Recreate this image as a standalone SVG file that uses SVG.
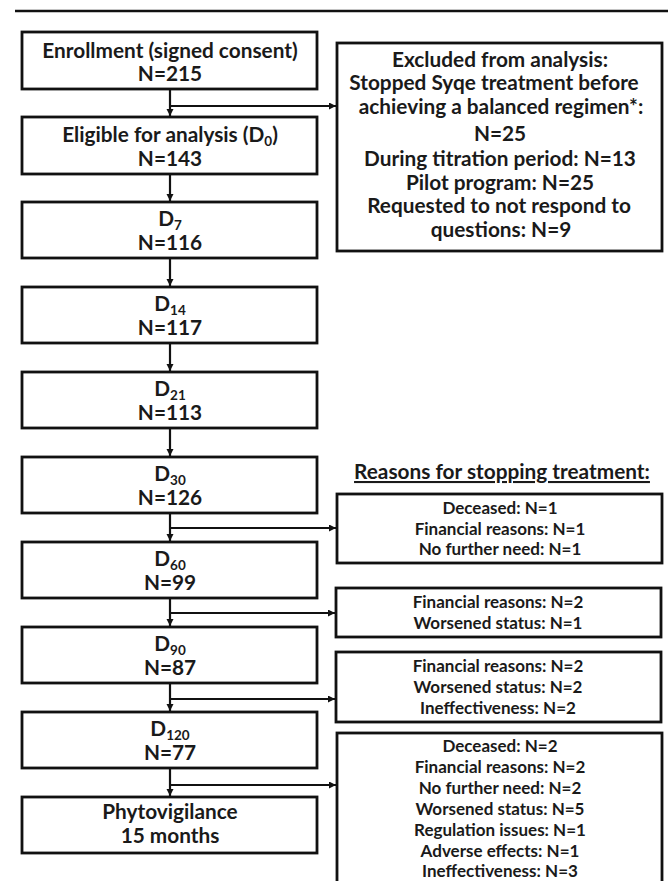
<svg xmlns="http://www.w3.org/2000/svg" width="668" height="881" viewBox="0 0 668 881">
<style>
.box{fill:#fff;stroke:#111;stroke-width:2.8}
.t{font-family:Lato,"Liberation Sans",sans-serif;font-weight:bold;fill:#1a1a1a;text-anchor:middle}
.L{font-size:20.8px}
.S{font-size:17px}
.sub{font-size:13.5px}
.c{stroke:#111;stroke-width:2.2;fill:none}
</style>
<defs>
<marker id="ah" markerUnits="userSpaceOnUse" markerWidth="8" markerHeight="8" refX="7" refY="3.5" orient="auto">
<path d="M0,0 L7,3.5 L0,7 z" fill="#111"/>
</marker>
</defs>
<rect width="668" height="881" fill="#fff"/>
<line x1="15" y1="11" x2="668" y2="11" stroke="#111" stroke-width="2.6"/>

<g id="connectors">
<line class="c" x1="170" y1="89" x2="170" y2="116" marker-end="url(#ah)"/>
<line class="c" x1="170" y1="106" x2="336" y2="106" marker-end="url(#ah)"/>
<line class="c" x1="170" y1="174" x2="170" y2="201" marker-end="url(#ah)"/>
<line class="c" x1="170" y1="258" x2="170" y2="286" marker-end="url(#ah)"/>
<line class="c" x1="170" y1="343" x2="170" y2="371" marker-end="url(#ah)"/>
<line class="c" x1="170" y1="428" x2="170" y2="456" marker-end="url(#ah)"/>
<line class="c" x1="170" y1="513" x2="170" y2="541" marker-end="url(#ah)"/>
<line class="c" x1="170" y1="528" x2="336" y2="528" marker-end="url(#ah)"/>
<line class="c" x1="170" y1="598" x2="170" y2="626" marker-end="url(#ah)"/>
<line class="c" x1="170" y1="613" x2="335" y2="613" marker-end="url(#ah)"/>
<line class="c" x1="170" y1="683" x2="170" y2="711" marker-end="url(#ah)"/>
<line class="c" x1="170" y1="699" x2="335" y2="699" marker-end="url(#ah)"/>
<line class="c" x1="170" y1="768" x2="170" y2="796" marker-end="url(#ah)"/>
<line class="c" x1="170" y1="785" x2="336" y2="785" marker-end="url(#ah)"/>
</g>

<g id="enrollment">
<rect class="box" x="22" y="32" width="295" height="57"/>
<text class="t L" x="170" y="58">Enrollment (signed consent)</text>
<text class="t L" x="170" y="81">N=215</text>
</g>
<g id="eligible">
<rect class="box" x="22" y="117" width="295" height="57"/>
<text class="t L" x="170" y="142">Eligible for analysis (D<tspan class="sub" dy="3.5">0</tspan><tspan dy="-3.5">)</tspan></text>
<text class="t L" x="170" y="166">N=143</text>
</g>
<g id="d7">
<rect class="box" x="22" y="202" width="295" height="56"/>
<text class="t L" x="170" y="226">D<tspan class="sub" dy="3.5">7</tspan></text>
<text class="t L" x="170" y="250">N=116</text>
</g>
<g id="d14">
<rect class="box" x="22" y="287" width="295" height="56"/>
<text class="t L" x="170" y="311">D<tspan class="sub" dy="3.5">14</tspan></text>
<text class="t L" x="170" y="335">N=117</text>
</g>
<g id="d21">
<rect class="box" x="22" y="372" width="295" height="56"/>
<text class="t L" x="170" y="396">D<tspan class="sub" dy="3.5">21</tspan></text>
<text class="t L" x="170" y="420">N=113</text>
</g>
<g id="d30">
<rect class="box" x="22" y="457" width="295" height="56"/>
<text class="t L" x="170" y="481">D<tspan class="sub" dy="3.5">30</tspan></text>
<text class="t L" x="170" y="505">N=126</text>
</g>
<g id="d60">
<rect class="box" x="22" y="542" width="295" height="56"/>
<text class="t L" x="170" y="566">D<tspan class="sub" dy="3.5">60</tspan></text>
<text class="t L" x="170" y="590">N=99</text>
</g>
<g id="d90">
<rect class="box" x="22" y="627" width="295" height="56"/>
<text class="t L" x="170" y="651">D<tspan class="sub" dy="3.5">90</tspan></text>
<text class="t L" x="170" y="675">N=87</text>
</g>
<g id="d120">
<rect class="box" x="22" y="712" width="295" height="56"/>
<text class="t L" x="170" y="736">D<tspan class="sub" dy="3.5">120</tspan></text>
<text class="t L" x="170" y="760">N=77</text>
</g>
<g id="phyto">
<rect class="box" x="22" y="797" width="295" height="56"/>
<text class="t L" x="170" y="819">Phytovigilance</text>
<text class="t L" x="170" y="843">15 months</text>
</g>

<g id="excluded">
<rect class="box" x="337" y="43" width="325" height="208"/>
<text class="t L" x="500" y="67">Excluded from analysis:</text>
<text class="t L" x="494" y="90">Stopped Syqe treatment before</text>
<text class="t L" x="501" y="114">achieving a balanced regimen*:</text>
<text class="t L" x="500" y="141">N=25</text>
<text class="t L" x="500" y="166">During titration period: N=13</text>
<text class="t L" x="500" y="190">Pilot program: N=25</text>
<text class="t L" x="499" y="213">Requested to not respond to</text>
<text class="t L" x="501" y="237">questions: N=9</text>
</g>

<text id="reasons-title" class="t L" x="502" y="479" text-decoration="underline">Reasons for stopping treatment:</text>

<g id="reasons-d30">
<rect class="box" x="337" y="494" width="325" height="69"/>
<text class="t S" x="500" y="514">Deceased: N=1</text>
<text class="t S" x="500" y="535">Financial reasons: N=1</text>
<text class="t S" x="500" y="555">No further need: N=1</text>
</g>
<g id="reasons-d60">
<rect class="box" x="336" y="588" width="325" height="49"/>
<text class="t S" x="498" y="608">Financial reasons: N=2</text>
<text class="t S" x="498" y="629">Worsened status: N=1</text>
</g>
<g id="reasons-d90">
<rect class="box" x="336" y="652" width="325" height="70"/>
<text class="t S" x="498" y="672">Financial reasons: N=2</text>
<text class="t S" x="498" y="693">Worsened status: N=2</text>
<text class="t S" x="498" y="714">Ineffectiveness: N=2</text>
</g>
<g id="reasons-d120">
<rect class="box" x="337" y="733" width="325" height="170"/>
<text class="t S" x="500" y="752">Deceased: N=2</text>
<text class="t S" x="500" y="773">Financial reasons: N=2</text>
<text class="t S" x="500" y="794">No further need: N=2</text>
<text class="t S" x="500" y="815">Worsened status: N=5</text>
<text class="t S" x="500" y="836">Regulation issues: N=1</text>
<text class="t S" x="500" y="857">Adverse effects: N=1</text>
<text class="t S" x="500" y="877">Ineffectiveness: N=3</text>
</g>
</svg>
